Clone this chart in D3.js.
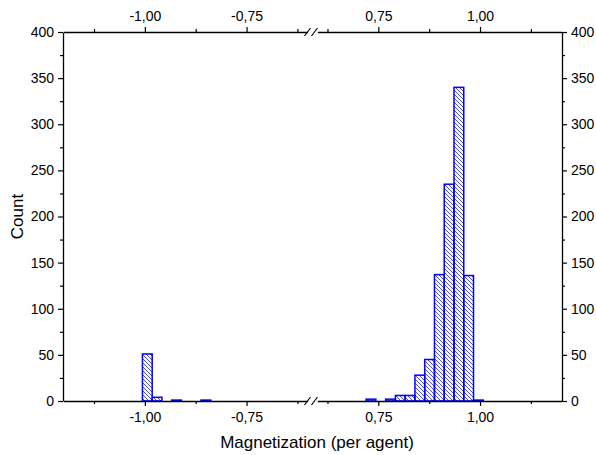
<!DOCTYPE html>
<html>
<head>
<meta charset="utf-8">
<script src="https://cdn.jsdelivr.net/npm/d3@7"></script>
<style>
  body { margin: 0; background: #fff; }
  text { font-family: "Liberation Sans", Arial, sans-serif; fill: #000; }
</style>
</head>
<body>
<div id="vis"></div>
<script>
// histogram bins (left edge), bin width 0.024
const binWidth = 0.024;
const leftBins = [-1.006, -0.982, -0.934, -0.862];
const leftCounts = [51, 4, 1, 1];
const rightBins = [0.72, 0.768, 0.792, 0.816, 0.84, 0.864, 0.888, 0.912, 0.936, 0.96, 0.984];
const rightCounts = [2, 2, 6, 6, 28, 45, 137, 235, 340, 136, 1];

const leftMajor = [-1.0, -0.75], leftMinor = [-1.125, -0.875, -0.625];
const rightMajor = [0.75, 1.0], rightMinor = [0.625, 0.875, 1.125];
const yMajor = d3.range(0, 401, 50), yMinor = d3.range(25, 400, 50);

const W = 596, H = 455;
const plot = { left: 63, right: 562, top: 32, bottom: 401 };

const xL = d3.scaleLinear().domain([-1.2, -0.6]).range([63.5, 307.6]);
const xR = d3.scaleLinear().domain([0.6, 1.2]).range([317.3, 561.4]);
const y = d3.scaleLinear().domain([0, 400]).range([plot.bottom, plot.top]);

const fmt = d => d3.format(".2f")(d).replace(".", ",").replace("\u2212", "-");

const svg = d3.select('#vis').append('svg')
  .attr('width', W).attr('height', H);

// hatch pattern
svg.append('defs').append('pattern')
  .attr('id', 'hatch')
  .attr('patternUnits', 'userSpaceOnUse')
  .attr('width', 4).attr('height', 4)
  .append('path')
  .attr('d', 'M-1,-1 L5,5 M3,-1 L5,1 M-1,3 L1,5')
  .attr('stroke', '#3a3aff')
  .attr('stroke-width', 0.9);

function drawBars(bins, counts, xs) {
  svg.append('g').selectAll('rect')
    .data(bins.map((b, i) => ({ x0: b, c: counts[i] })))
    .enter().append('rect')
    .attr('x', d => xs(d.x0))
    .attr('width', d => xs(d.x0 + binWidth) - xs(d.x0))
    .attr('y', d => y(d.c))
    .attr('height', d => y(0) - y(d.c))
    .attr('fill', 'url(#hatch)')
    .attr('stroke', '#0000ff')
    .attr('stroke-width', 1.5);
}
drawBars(leftBins, leftCounts, xL);
drawBars(rightBins, rightCounts, xR);

function styleAxis(g) {
  g.selectAll('path.domain').attr('stroke', '#000').attr('stroke-width', 1.3);
  g.selectAll('.tick line').attr('stroke', '#000').attr('stroke-width', 1.2);
  g.selectAll('text').attr('font-size', 14).attr('font-family', '"Liberation Sans", Arial, sans-serif');
}

function xAxes(xs) {
  // bottom
  const b = svg.append('g').attr('transform', `translate(0,${plot.bottom})`)
    .call(d3.axisBottom(xs).tickValues(xs === xL ? leftMajor : rightMajor)
      .tickFormat(fmt).tickSize(5).tickSizeOuter(0).tickPadding(6));
  styleAxis(b);
  const bm = svg.append('g').attr('transform', `translate(0,${plot.bottom})`)
    .call(d3.axisBottom(xs).tickValues(xs === xL ? leftMinor : rightMinor)
      .tickFormat('').tickSize(3).tickSizeOuter(0));
  bm.select('path.domain').remove();
  styleAxis(bm);
  // top
  const t = svg.append('g').attr('transform', `translate(0,${plot.top})`)
    .call(d3.axisTop(xs).tickValues(xs === xL ? leftMajor : rightMajor)
      .tickFormat(fmt).tickSize(5).tickSizeOuter(0).tickPadding(6));
  styleAxis(t);
  const tm = svg.append('g').attr('transform', `translate(0,${plot.top})`)
    .call(d3.axisTop(xs).tickValues(xs === xL ? leftMinor : rightMinor)
      .tickFormat('').tickSize(3).tickSizeOuter(0));
  tm.select('path.domain').remove();
  styleAxis(tm);
}
xAxes(xL);
xAxes(xR);

// y axes, left and right
[[d3.axisLeft, plot.left], [d3.axisRight, plot.right]].forEach(([ax, px]) => {
  const g = svg.append('g').attr('transform', `translate(${px},0)`)
    .call(ax(y).tickValues(yMajor).tickSize(5).tickSizeOuter(0).tickPadding(4));
  styleAxis(g);
  const gm = svg.append('g').attr('transform', `translate(${px},0)`)
    .call(ax(y).tickValues(yMinor).tickFormat('').tickSize(3).tickSizeOuter(0));
  gm.select('path.domain').remove();
  styleAxis(gm);
});

// axis break marks
const breakX = (xL.range()[1] + xR.range()[0]) / 2;
[plot.top, plot.bottom].forEach(py => {
  const g = svg.append('g').attr('stroke', '#000').attr('stroke-width', 1.2);
  g.append('line').attr('x1', breakX - 8).attr('y1', py + 4).attr('x2', breakX - 2).attr('y2', py - 4);
  g.append('line').attr('x1', breakX - 1).attr('y1', py + 4).attr('x2', breakX + 5).attr('y2', py - 4);
});

// axis titles
svg.append('text')
  .attr('x', 317).attr('y', 448)
  .attr('text-anchor', 'middle')
  .attr('font-size', 17)
  .text('Magnetization (per agent)');

svg.append('text')
  .attr('transform', `translate(23,${(plot.top + plot.bottom) / 2}) rotate(-90)`)
  .attr('text-anchor', 'middle')
  .attr('font-size', 17)
  .text('Count');
</script>
</body>
</html>
